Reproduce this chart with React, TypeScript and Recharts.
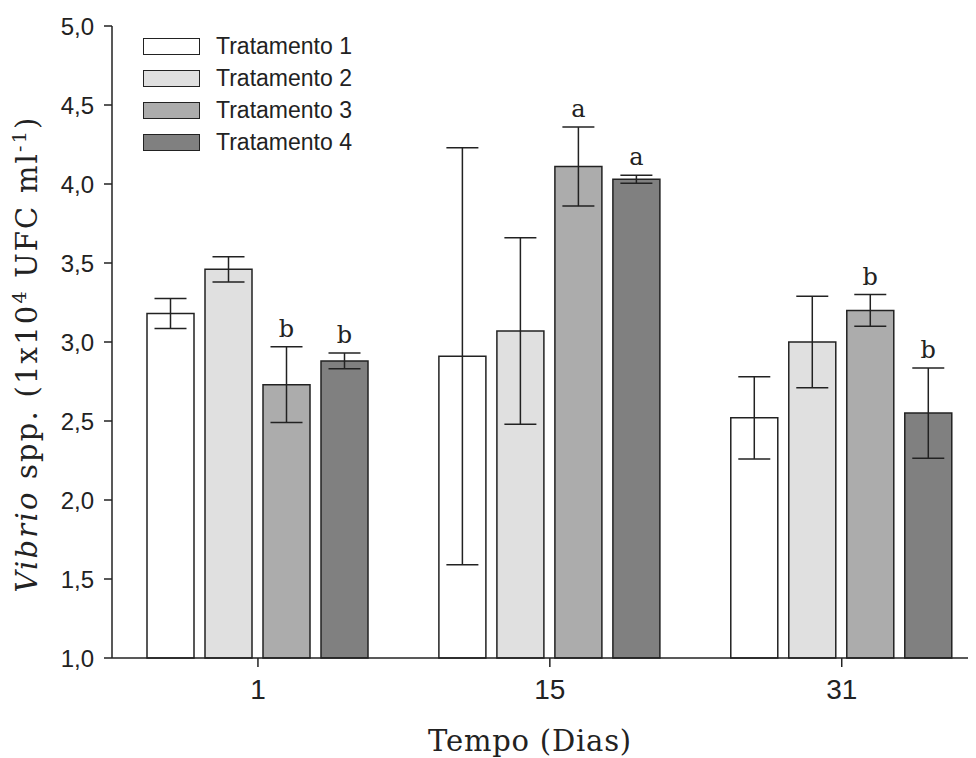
import React from 'react';
import { BarChart, Bar, XAxis, YAxis, ErrorBar, LabelList, Legend, Label } from 'recharts';

const days = ['1', '15', '31'];
const seriesNames = ['Tratamento 1', 'Tratamento 2', 'Tratamento 3', 'Tratamento 4'];
const seriesFills = ['#ffffff', '#e0e0e0', '#acacac', '#808080'];

const t1 = [3.18, 2.91, 2.52];
const t2 = [3.46, 3.07, 3.0];
const t3 = [2.73, 4.11, 3.2];
const t4 = [2.88, 4.03, 2.55];

const t1Err = [0.095, 1.32, 0.26];
const t2Err = [0.08, 0.59, 0.29];
const t3Err = [0.24, 0.25, 0.1];
const t4Err = [0.05, 0.025, 0.285];

const t3Letters = ['b', 'a', 'b'];
const t4Letters = ['b', 'a', 'b'];

const yTicks = [1, 1.5, 2, 2.5, 3, 3.5, 4, 4.5, 5];

const data = days.map((day, i) => ({
  x: i,
  day,
  t1: t1[i],
  t2: t2[i],
  t3: t3[i],
  t4: t4[i],
  t1Err: t1Err[i],
  t2Err: t2Err[i],
  t3Err: t3Err[i],
  t4Err: t4Err[i],
}));

const ink = '#222';
const serif = '"DejaVu Serif", serif';
const sans = '"Liberation Sans", Arial, sans-serif';

// letter sits a little above the top cap of the error bar
const letterLabel = (errs: number[], letters: string[]) => (props: any) => {
  const { x, y, width, height, value, index } = props;
  const v = Array.isArray(value) ? value[1] : value;
  const pxPerUnit = height / (v - 1);
  const capY = y - errs[index] * pxPerUnit;
  return (
    <text x={x + width / 2} y={capY - 10} textAnchor="middle" fontFamily={serif} fontSize={24} fill={ink}>
      {letters[index]}
    </text>
  );
};

const renderLegend = () => (
  <div>
    {seriesNames.map((n, i) => (
      <div key={n} style={{ display: 'flex', alignItems: 'center', height: 32 }}>
        <span
          style={{
            display: 'inline-block',
            width: 57,
            height: 17,
            boxSizing: 'border-box',
            border: `1.5px solid ${ink}`,
            background: seriesFills[i],
          }}
        />
        <span style={{ marginLeft: 16, fontFamily: sans, fontSize: 23, color: ink }}>{n}</span>
      </div>
    ))}
  </div>
);

const YTitle = ({ viewBox }: any) => {
  const cx = viewBox.x + 29;
  const cy = viewBox.y + viewBox.height / 2 + 12;
  return (
    <text
      x={cx}
      y={cy}
      transform={`rotate(-90 ${cx} ${cy})`}
      textAnchor="middle"
      fontFamily={serif}
      fontSize={29}
      letterSpacing={2.2}
      fill={ink}
    >
      <tspan fontStyle="italic">Vibrio</tspan>
      <tspan> spp. (1x10</tspan>
      <tspan dy={-11} fontSize={19}>4</tspan>
      <tspan dy={11}> UFC ml</tspan>
      <tspan dy={-11} fontSize={19}>-1</tspan>
      <tspan dy={11}>)</tspan>
    </text>
  );
};

const XTitle = ({ viewBox }: any) => (
  <text
    x={viewBox.x + viewBox.width / 2 - 14}
    y={viewBox.y + 93}
    textAnchor="middle"
    fontFamily={serif}
    fontSize={29}
    letterSpacing={0.8}
    fill={ink}
  >
    Tempo (Dias)
  </text>
);

export default function App() {
  const keys = ['t1', 't2', 't3', 't4'];
  return (
    <BarChart
      width={968}
      height={750}
      data={data}
      margin={{ top: 18, right: 0, bottom: 40, left: 0 }}
      barGap={11}
    >
      <XAxis
        dataKey="x"
        type="number"
        domain={[-0.5, 2.46]}
        allowDataOverflow
        ticks={[0, 1, 2]}
        interval={0}
        tickFormatter={(i: number) => days[i]}
        height={60}
        tickSize={9}
        tickMargin={12}
        tick={{ fontSize: 28, fill: ink, fontFamily: sans }}
        axisLine={{ stroke: ink, strokeWidth: 1.5 }}
        tickLine={{ stroke: ink, strokeWidth: 1.5 }}
      >
        <Label content={<XTitle />} />
      </XAxis>
      <YAxis
        type="number"
        domain={[1, 5]}
        ticks={yTicks}
        interval={0}
        tickFormatter={(v: number) => v.toFixed(1).replace('.', ',')}
        width={104}
        tickSize={8}
        tickMargin={10}
        tick={{ fontSize: 24, fill: ink, fontFamily: sans }}
        axisLine={{ stroke: ink, strokeWidth: 1.5 }}
        tickLine={{ stroke: ink, strokeWidth: 1.5 }}
      >
        <Label content={<YTitle />} />
      </YAxis>
      <Legend
        layout="vertical"
        align="center"
        verticalAlign="middle"
        content={renderLegend}
        wrapperStyle={{ top: 22, left: 135, width: 'auto', height: 'auto' }}
      />
      {keys.map((k, i) => (
        <Bar
          key={k}
          dataKey={k}
          name={seriesNames[i]}
          fill={seriesFills[i]}
          stroke={ink}
          strokeWidth={1.5}
          barSize={47}
          isAnimationActive={false}
        >
          <ErrorBar dataKey={`${k}Err`} width={16} stroke={ink} strokeWidth={1.5} direction="y" />
          {k === 't3' && <LabelList dataKey="t3" content={letterLabel(t3Err, t3Letters)} />}
          {k === 't4' && <LabelList dataKey="t4" content={letterLabel(t4Err, t4Letters)} />}
        </Bar>
      ))}
    </BarChart>
  );
}
